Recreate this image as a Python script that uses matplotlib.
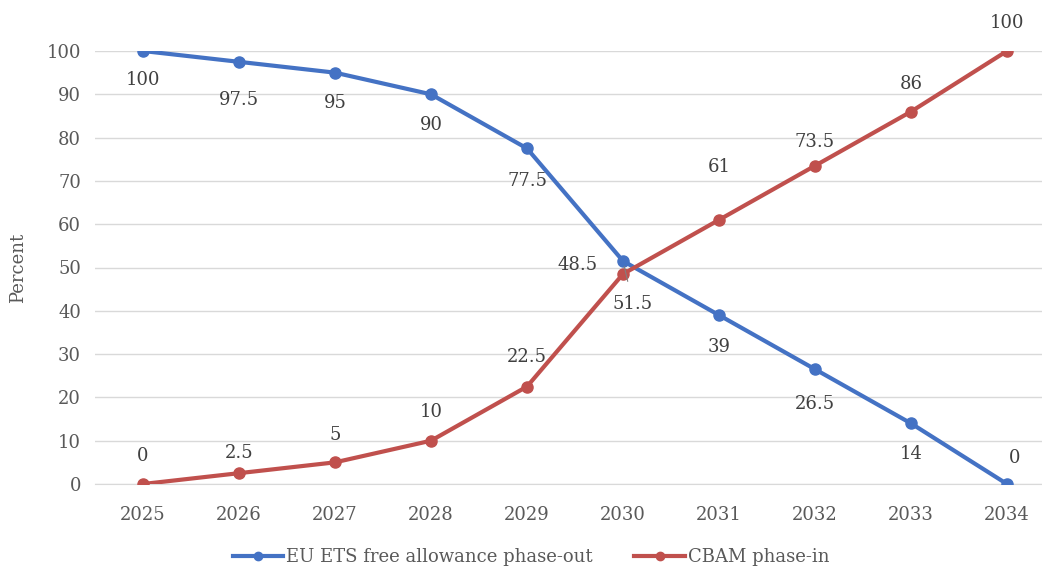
import matplotlib.pyplot as plt

years = [2025, 2026, 2027, 2028, 2029, 2030, 2031, 2032, 2033, 2034]
ets_free = [100, 97.5, 95, 90, 77.5, 51.5, 39, 26.5, 14, 0]
cbam = [0, 2.5, 5, 10, 22.5, 48.5, 61, 73.5, 86, 100]

# label offsets in pixels (dx, dy), hand placed like the original
ets_offsets = [(0, -29), (0, -38), (0, -30), (0, -31), (0, -33),
               (10, -43), (0, -32), (0, -35), (0, -31), (8, 26)]
cbam_offsets = [(0, 28), (0, 20), (0, 27), (0, 29), (0, 30),
                (-45, 9), (0, 53), (0, 24), (0, 28), (0, 28)]

BLUE = "#4472C4"
RED = "#C0504D"
TEXT = "#595959"

plt.rcParams["font.family"] = ["DejaVu Serif"]

fig = plt.figure(figsize=(10.42, 5.70), dpi=100)
ax = fig.add_axes([95 / 1042, 86 / 570, (1042 - 95) / 1042, 433 / 570])

ax.plot(years, ets_free, color=BLUE, lw=3, marker="o", ms=8,
        label="EU ETS free allowance phase-out", zorder=3)
ax.plot(years, cbam, color=RED, lw=3, marker="o", ms=8,
        label="CBAM phase-in", zorder=3)

for x, y, (dx, dy) in zip(years, ets_free, ets_offsets):
    kw = {}
    if y == 51.5:
        # leader line from the point to its moved label
        kw["arrowprops"] = dict(arrowstyle="-", color="#808080", lw=0.8,
                                shrinkA=8, shrinkB=4)
    ax.annotate(f"{y:g}", (x, y), xytext=(dx, dy), textcoords="offset pixels",
                ha="center", va="center", fontsize=13, color="#404040", **kw)
for x, y, (dx, dy) in zip(years, cbam, cbam_offsets):
    ax.annotate(f"{y:g}", (x, y), xytext=(dx, dy), textcoords="offset pixels",
                ha="center", va="center", fontsize=13, color="#404040")

ax.set_xlim(2024.5, 2034 + 35 / 96)
ax.set_ylim(0, 100)
ax.set_xticks(years)
ax.set_yticks(range(0, 101, 10))
ax.grid(axis="y", color="#D9D9D9", lw=1)
ax.set_axisbelow(True)
for s in ["top", "right", "left"]:
    ax.spines[s].set_visible(False)
ax.spines["bottom"].set_color("#D9D9D9")
ax.tick_params(axis="x", length=0, labelsize=13, labelcolor=TEXT, pad=16)
ax.tick_params(axis="y", length=0, labelsize=13, labelcolor=TEXT, pad=10)
ax.set_ylabel("Percent", fontsize=13, color=TEXT, labelpad=14)

fig.legend(loc="center", bbox_to_anchor=(531 / 1042, 1 - 557 / 570),
           ncol=2, frameon=False, fontsize=13, labelcolor=TEXT,
           handlelength=2.8, handletextpad=0.15, columnspacing=2.3,
           markerscale=0.75)

fig.savefig("out.png", dpi=100)
